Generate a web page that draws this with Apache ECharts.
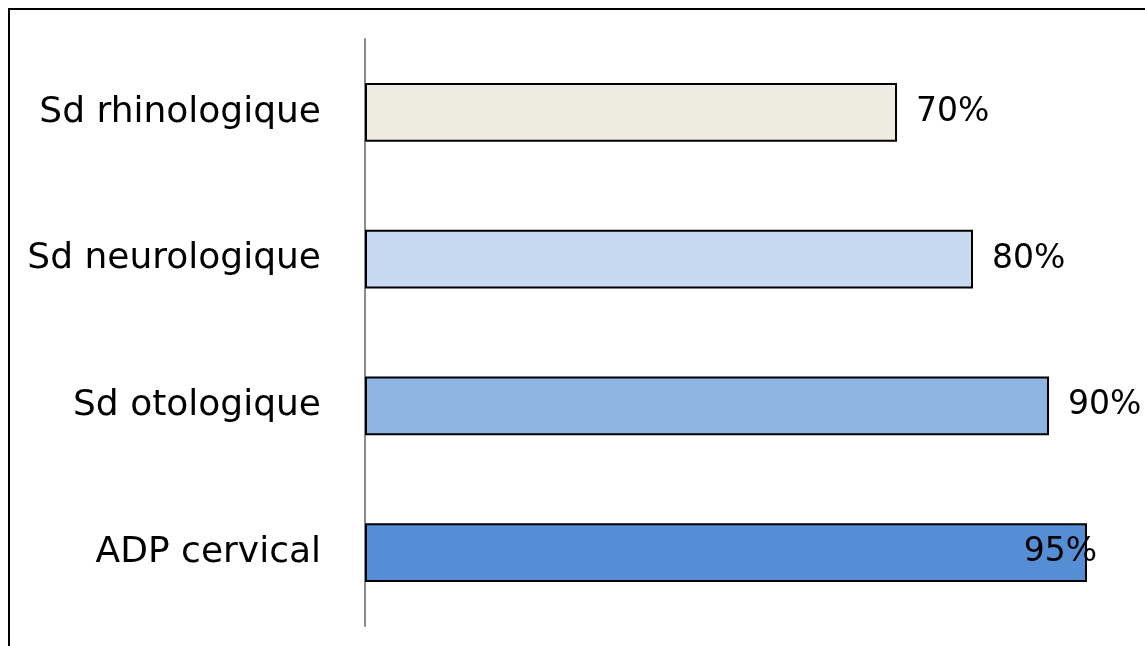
<!DOCTYPE html>
<html>
<head>
<meta charset="utf-8">
<script src="https://cdn.jsdelivr.net/npm/echarts@6/dist/echarts.min.js"></script>
<style>
  html, body { margin: 0; padding: 0; background: #fff; }
  #chart { width: 1145px; height: 646px; }
</style>
</head>
<body>
<div id="chart"></div>
<script>
// Syndromes et signes cliniques, en pourcentage des cas
const categories = ['Sd rhinologique', 'Sd neurologique', 'Sd otologique', 'ADP cervical'];
const values = [70, 80, 90, 95];
const barColors = ['#EEECE1', '#C6D9F1', '#8EB4E3', '#558ED5'];

const FONT = 'DejaVu Sans';

const chart = echarts.init(document.getElementById('chart'), null, { renderer: 'canvas' });

const data = values.map((v, i) => {
  const item = {
    value: v,
    itemStyle: { color: barColors[i] }
  };
  // the last label would run past the edge, so it sits over the bar end
  if (i === values.length - 1) {
    item.label = { position: 'insideRight', distance: 0, offset: [10, 0] };
  }
  return item;
});

chart.setOption({
  animation: false,
  backgroundColor: '#ffffff',
  grid: { left: 365, top: 39, width: 760, height: 587, containLabel: false },
  xAxis: {
    type: 'value',
    min: 0,
    max: 100,
    show: false
  },
  yAxis: {
    type: 'category',
    data: categories,
    inverse: true,
    axisLine: { show: true, lineStyle: { color: '#8c8c8c', width: 2 } },
    axisTick: { show: false },
    axisLabel: {
      margin: 44,
      color: '#000',
      fontFamily: FONT,
      fontSize: 36
    },
    splitLine: { show: false }
  },
  series: [{
    type: 'bar',
    data: data,
    barWidth: '40%',
    itemStyle: { borderColor: '#000', borderWidth: 2 },
    label: {
      show: true,
      position: 'right',
      distance: 19,
      color: '#000',
      fontFamily: FONT,
      fontSize: 33,
      formatter: p => p.value + '%'
    }
  }],
  graphic: [{
    type: 'rect',
    silent: true,
    z: 100,
    shape: { x: 9, y: 9, width: 1300, height: 800 },
    style: { fill: 'none', stroke: '#000', lineWidth: 2 }
  }]
});
</script>
</body>
</html>
